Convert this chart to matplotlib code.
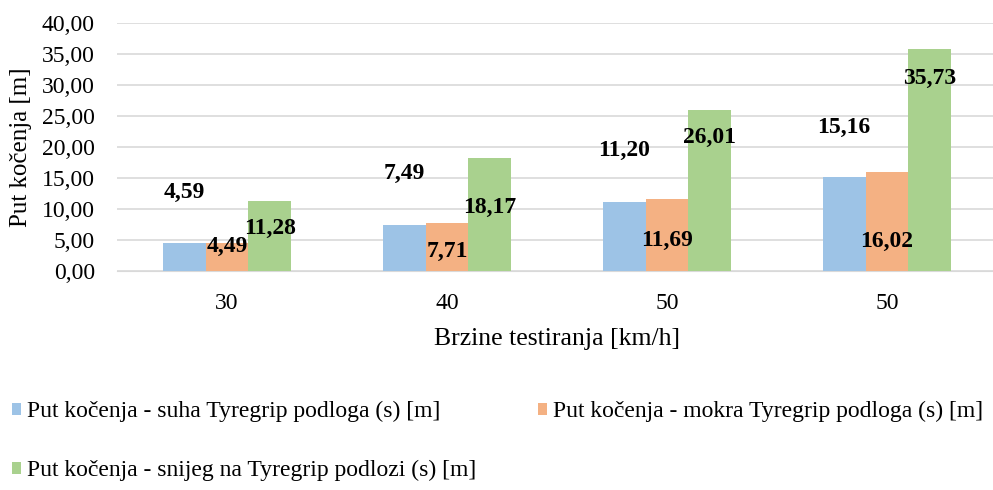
import numpy as np
import matplotlib.pyplot as plt

plt.rcParams['font.family'] = ['Liberation Serif', 'DejaVu Serif']

categories = ['30', '40', '50', '50']
suha = [4.59, 7.49, 11.20, 15.16]
mokra = [4.49, 7.71, 11.69, 16.02]
snijeg = [11.28, 18.17, 26.01, 35.73]
series_names = ['Put kočenja - suha Tyregrip podloga (s) [m]',
                'Put kočenja - mokra Tyregrip podloga (s) [m]',
                'Put kočenja - snijeg na Tyregrip podlozi (s) [m]']
colors = ['#9DC3E6', '#F4B183', '#A9D18E']

# label heights as placed in the original (data units)
label_y = [[12.6, 15.8, 19.5, 23.2],
           [4.0, 3.1, 5.0, 4.8],
           [6.8, 10.2, 21.5, 31.1]]

fig = plt.figure(figsize=(9.93, 4.9), dpi=100)
ax = fig.add_axes([117 / 993, 1 - 271 / 490, 880 / 993, 248 / 490])

x = np.arange(len(categories))
w = 0.195
bars = []
for i, vals in enumerate([suha, mokra, snijeg]):
    pos = x + (i - 1) * w
    bars.append(ax.bar(pos, vals, width=w, color=colors[i], label=series_names[i], zorder=3))
    for px, v, ly in zip(pos, vals, label_y[i]):
        ax.text(px, ly, f'{v:.2f}'.replace('.', ','), ha='center', va='center',
                fontsize=17, fontweight='bold', zorder=4)

ax.set_xlim(-0.5, len(categories) - 0.5)
ax.set_ylim(0, 40)
ax.set_yticks(np.arange(0, 41, 5))
ax.set_yticklabels([f'{t:.2f}'.replace('.', ',') for t in np.arange(0, 41, 5)])
ax.set_xticks(x)
ax.set_xticklabels(categories)
ax.tick_params(axis='both', labelsize=17, length=0)
ax.tick_params(axis='x', pad=16)
ax.tick_params(axis='y', pad=16)
ax.grid(axis='y', color='#D9D9D9', linewidth=1.2, zorder=0)
for s in ['top', 'right', 'left']:
    ax.spines[s].set_visible(False)
ax.spines['bottom'].set_color('#D9D9D9')
ax.set_xlabel('Brzine testiranja [km/h]', fontsize=18.5, labelpad=10)
ax.set_ylabel('Put kočenja [m]', fontsize=18)
ax.yaxis.set_label_coords((32 - 117) / 880, 0.5)

# row-wise order: suha, mokra on first row, snijeg below
order = [0, 2, 1]
fig.legend([bars[k] for k in order], [series_names[k] for k in order],
           loc='upper left', bbox_to_anchor=(12 / 993, 1 - 401 / 490), ncol=2,
           frameon=False, fontsize=17, handlelength=0.4, handleheight=0.4,
           handletextpad=0.25, labelspacing=1.6, columnspacing=2.6,
           borderpad=0, borderaxespad=0)

fig.savefig('out.png', dpi=100)
